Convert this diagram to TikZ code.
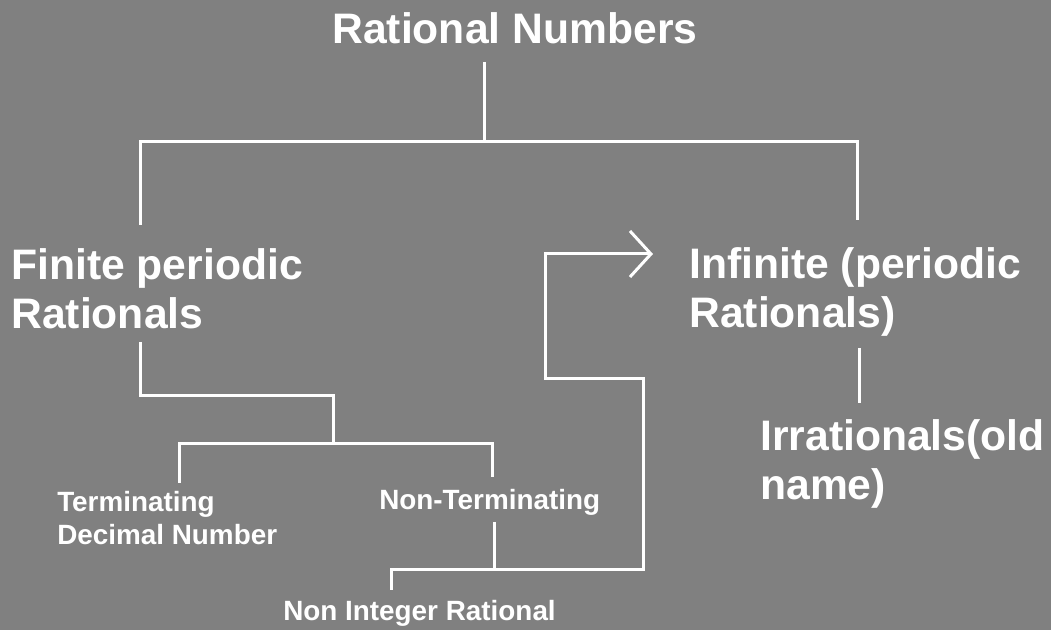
\documentclass[tikz,border=0pt]{standalone}
\usepackage{fontspec}
\setmainfont{Liberation Sans}
\usetikzlibrary{arrows.meta}
\definecolor{slate}{RGB}{128,128,128}

\begin{document}
\begin{tikzpicture}[x=0.75pt,y=-0.75pt,
  big/.style={anchor=base west, inner sep=0pt, text=white, align=left,
    font=\bfseries\fontsize{32pt}{37pt}\selectfont},
  small/.style={anchor=base west, inner sep=0pt, text=white, align=left,
    font=\bfseries\fontsize{20.9pt}{25pt}\selectfont},
  wire/.style={draw=white, line width=2.25pt}]
\fill[slate] (0,0) rectangle (1051,630);
\useasboundingbox (0,0) rectangle (1051,630);
% labels (base = last line)
\node[big] (rational) at (332,44) {Rational Numbers};
\node[big] (finite) at (11,329) {Finite periodic\\Rationals};
\node[big] (infinite) at (689,328) {Infinite (periodic\\Rationals)};
\node[big] (irrational) at (760,500) {Irrationals(old\\name)};
\node[small] (term) at (57,545) {Terminating\\Decimal Number};
\node[small] (nonterm) at (379,510) {Non-Terminating};
\node[small] (nonint) at (283,621) {Non Integer Rational};
\coordinate (r0) at (484,62);
\coordinate (bar) at (484,142);
\coordinate (fin0) at (140,225);
\coordinate (inf0) at (857,220);
\coordinate (fin1) at (140,342);
\coordinate (fork) at (333,396);
\coordinate (subbar) at (333,444);
\coordinate (term0) at (179,483);
\coordinate (nont0) at (492,477);
\coordinate (nont1) at (494,522);
\coordinate (loopbar) at (494,570);
\coordinate (nonint0) at (391,590);
\coordinate (tip) at (653,254);
\coordinate (inf1) at (859,348);
\coordinate (irr0) at (859,403);
% top level
\draw[wire] (r0) -- (bar);
\draw[wire] (fin0) -- (fin0 |- bar) -- (inf0 |- bar) -- (inf0);
% finite branch
\draw[wire] (fin1) |- (fork) -- (subbar);
\draw[wire] (term0) |- (subbar) -| (nont0);
% non-terminating loops back to infinite
\draw[wire] (nont1) -- (loopbar);
\draw[wire, -{Straight Barb[length=15.75pt, width=34.5pt]}]
  (nonint0) |- (loopbar) -| (643,379) -| (545,254) -- (tip);
% infinite branch
\draw[wire] (inf1) -- (irr0);
\end{tikzpicture}
\end{document}
